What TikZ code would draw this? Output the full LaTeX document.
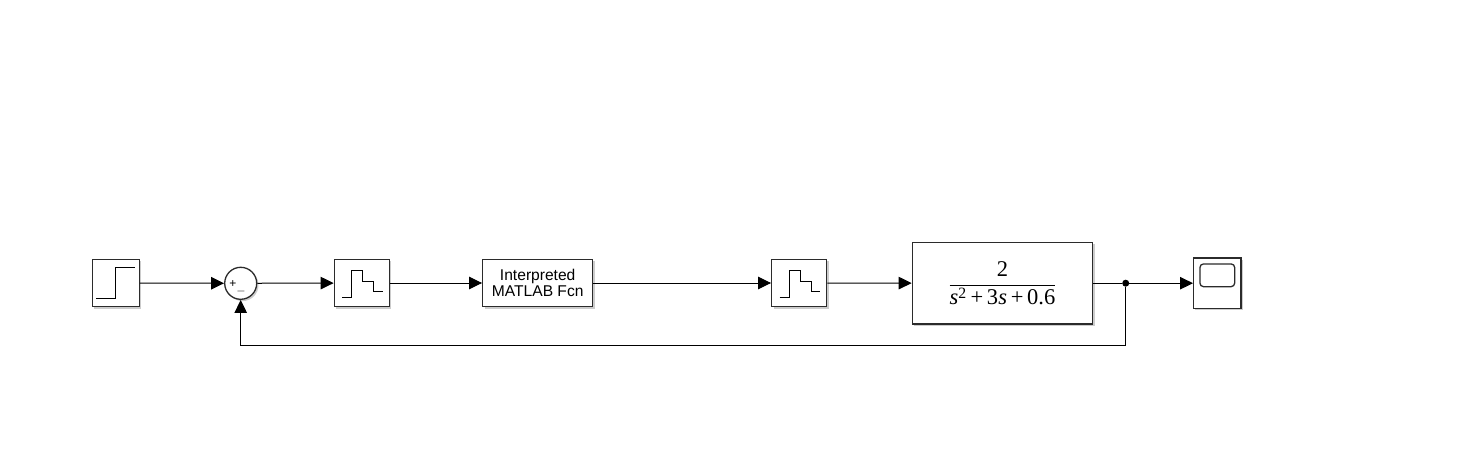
\documentclass[tikz,border=0pt]{standalone}
\usepackage{amsmath}
\usepackage{fontspec}
\setmainfont{Liberation Serif}
\newfontfamily\blockfont{Liberation Sans}
\usepackage{xcolor}
\usepackage{tikz}
\usetikzlibrary{arrows.meta, shadows}
\definecolor{blockedge}{HTML}{2B2B2B}

\tikzset{
  block/.style={draw=blockedge, line width=1.3pt, fill=white, inner sep=0pt,
    drop shadow={shadow xshift=1.8pt, shadow yshift=-1.8pt, opacity=0.4}},
  sig/.style={->, line width=1pt},
  iconline/.style={line width=1pt, black}
}

\newcommand{\stairicon}[1]{%
  \draw[iconline, shift={(#1.center)}]
    (-19.5, 14.3) -- (-10.2, 14.3) -- (-10.2, -12.7) -- (0.8, -12.7)
    -- (0.8, -1.7) -- (11.8, -1.7) -- (11.8, 8.7) -- (21.2, 8.7);
}

\begin{document}
\begin{tikzpicture}[>={Triangle[length=13pt, width=12.5pt]}, x=1pt, y=-1pt]
  \useasboundingbox (0, 0) rectangle (1470, 460);

  % Blocks
  \node[block, minimum width=47pt, minimum height=47.4pt] (stepin) at (115.8, 283) {};
  \node[block, circle, minimum size=32pt] (sumerr) at (240.7, 283.3) {};
  \node[block, minimum width=55pt, minimum height=47.4pt] (zoha) at (361.8, 283) {};
  \node[block, minimum width=110pt, minimum height=47.4pt, align=center,
    font=\blockfont\fontsize{15.6}{16}\selectfont] (fcn) at (537.7, 283)
    {Interpreted\\MATLAB Fcn};
  \node[block, minimum width=55pt, minimum height=47.4pt] (zohb) at (799.2, 283) {};
  \node[block, minimum width=180.4pt, minimum height=81.7pt,
    font=\fontsize{22.5}{26}\selectfont] (plant) at (1002.5, 283.2)
    {\raisebox{2pt}{$\dfrac{\text{2}}{\text{\itshape s}^{\text{2}}\text{\,+\,3\itshape s\upshape\,+\,0.6}}$}};
  \node[block, minimum width=47.3pt, minimum height=50.3pt] (scopeout) at (1217.3, 283.2) {};

  % Icons
  \draw[iconline, shift={(stepin.center)}]
    (-19.8, 15.3) -- (-0.2, 15.3) -- (-0.2, -15.7) -- (19.2, -15.7);
  \stairicon{zoha}
  \stairicon{zohb}
  \node[draw=blockedge, line width=1.3pt, rounded corners=3.5pt, inner sep=0pt,
    minimum width=34.7pt, minimum height=22.7pt] (screen) at (1217.3, 275.3) {};

  % Sum signs
  \node[font=\blockfont\fontsize{12}{12}\selectfont, inner sep=0pt] (plus) at (233, 284) {+};
  \node[font=\fontsize{12}{12}\selectfont, inner sep=0pt] (minus) at (241, 291.7) {$-$};

  % Signals
  \node[circle, fill=black, inner sep=0pt, minimum size=7pt] (branch) at (1125.7, 283.2) {};
  \coordinate (fbturn) at (240.7, 345.3);
  \draw[sig] (stepin) -- (sumerr);
  \draw[sig] (sumerr) -- (zoha);
  \draw[sig] (zoha) -- (fcn);
  \draw[sig] (fcn) -- (zohb);
  \draw[sig] (zohb) -- (plant);
  \draw[line width=1pt] (plant) -- (branch);
  \draw[sig] (branch) -- (scopeout);
  \draw[sig] (branch) |- (fbturn) -- (sumerr);
\end{tikzpicture}
\end{document}
